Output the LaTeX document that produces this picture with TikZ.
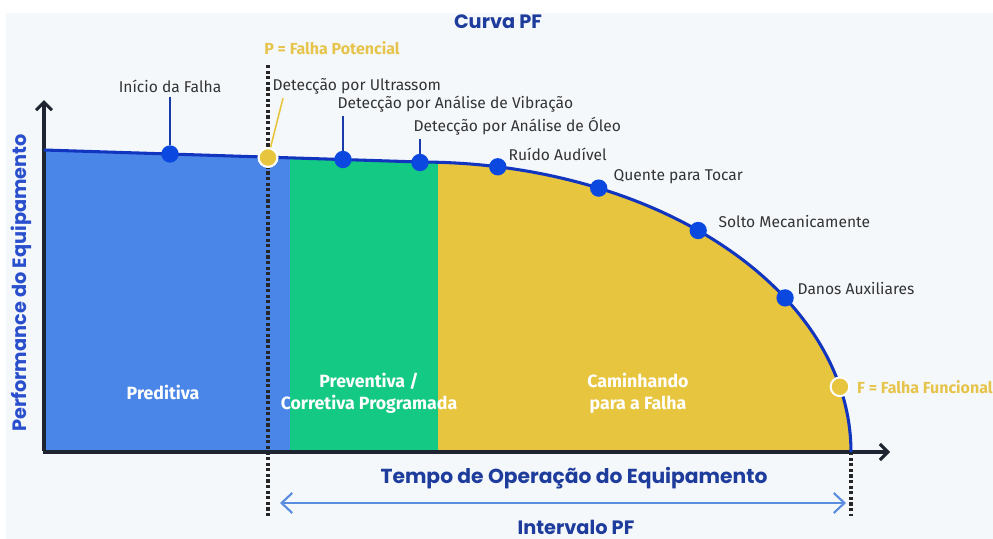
\documentclass[tikz,border=0pt]{standalone}
\usepackage{fontspec}
\setmainfont{Fira Sans}
\newfontfamily\pop{Poppins}
\usetikzlibrary{arrows.meta,calc}
\definecolor{bgc}{HTML}{F5F8FB}
\definecolor{regblue}{HTML}{4A86E8}
\definecolor{reggreen}{HTML}{14C983}
\definecolor{regyellow}{HTML}{E8C53E}
\definecolor{curveblue}{HTML}{1235C0}
\definecolor{dotblue}{HTML}{0A48E0}
\definecolor{titleblue}{HTML}{1E3C9C}
\definecolor{ylabelblue}{HTML}{2A4FCC}
\definecolor{ptext}{HTML}{E6C44C}
\definecolor{lblgray}{HTML}{333333}
\definecolor{axisc}{HTML}{1E2530}
\definecolor{arrowblue}{HTML}{5A8CE0}
\definecolor{connblue}{HTML}{1A3AA8}
\tikzset{
  lbl/.style={font=\fontsize{11.7}{14}\selectfont, text=lblgray, inner sep=1pt},
  region/.style={font=\bfseries\fontsize{13.3}{16.5}\selectfont, text=white, align=center},
  dotn/.style={circle, fill=dotblue, minimum size=13pt, inner sep=0},
  ydot/.style={circle, fill=regyellow, draw=white, line width=1.5pt, minimum size=14pt, inner sep=0},
  conn/.style={draw=connblue, line width=1.2pt},
  yconn/.style={draw=regyellow, line width=1.2pt},
  curveline/.style={draw=curveblue, line width=2.3pt},
  axisline/.style={draw=axisc, line width=2.3pt, -{Straight Barb[length=6pt,width=12pt,line width=2.3pt]}},
  guide/.style={draw=black!85, line width=2.6pt, dash pattern=on 2.4pt off 1.8pt},
  yellowtxt/.style={font=\bfseries\fontsize{12}{14}\selectfont, text=ptext, inner sep=0},
  poptitle/.style={font=\pop\bfseries\fontsize{#1}{16}\selectfont, text=titleblue}
}
\begin{document}
\begin{tikzpicture}[x=0.75pt,y=-0.75pt]
\useasboundingbox (0,0) rectangle (993,539);
\fill[white] (0,0) rectangle (993,539);
\fill[bgc] (6,13) rectangle (993,539);
\coordinate (start) at (44,150);
\coordinate (top) at (420,162);
\coordinate (origin) at (44,452);
% regions
\begin{scope}
\clip (origin) -- (start) -- (top) -- plot[domain=-90:0, samples=80] ({420+431*cos(\x)},{452+290*sin(\x)}) -- cycle;
\fill[regblue] (40,100) rectangle (290,460);
\fill[reggreen] (290,100) rectangle (438,460);
\fill[regyellow] (438,100) rectangle (870,460);
\end{scope}
% guides
\coordinate (g1t) at (268,65);
\coordinate (g1b) at (268,516);
\coordinate (g2t) at (851,452);
\coordinate (g2b) at (851,516);
\draw[guide] (g1t) -- (g1b);
\draw[guide] (g2t) -- (g2b);
% axes
\coordinate (ytip) at (44,100);
\coordinate (xtip) at (890,452);
\draw[axisline] ([yshift=0.9pt]origin) -- (ytip);
\draw[axisline] ([xshift=-0.9pt]origin) -- (xtip);
% curve
\draw[curveline] (start) -- (top) -- plot[domain=-90:0, samples=80] ({420+431*cos(\x)},{452+290*sin(\x)});
% labels
\node[lbl] (l1) at (170,86) {Início da Falha};
\node[lbl, anchor=west] (l2) at (271,86) {Detecção por Ultrassom};
\node[lbl, anchor=west] (l3) at (336,104) {Detecção por Análise de Vibração};
\node[lbl, anchor=west] (l4) at (412,126) {Detecção por Análise de Óleo};
\node[lbl, anchor=west] (l5) at (507,154) {Ruído Audível};
\node[lbl, anchor=west] (l6) at (612,177) {Quente para Tocar};
\node[lbl, anchor=west] (l7) at (717,222) {Solto Mecanicamente};
\node[lbl, anchor=west] (l8) at (796,289) {Danos Auxiliares};
% dots
\node[dotn] (d1) at (170,154) {};
\node[ydot] (dp) at (268,157.5) {};
\node[dotn] (d3) at (343,159.5) {};
\node[dotn] (d4) at (420,162.5) {};
\node[dotn] (d5) at ({420+431*cos(79.6)},{452-290*sin(79.6)}) {};
\node[dotn] (d6) at ({420+431*cos(65.5)},{452-290*sin(65.5)}) {};
\node[dotn] (d7) at ({420+431*cos(49.8)},{452-290*sin(49.8)}) {};
\node[dotn] (d8) at ({420+431*cos(32.1)},{452-290*sin(32.1)}) {};
\node[ydot] (df) at ({420+431*cos(13.0)},{452-290*sin(13.0)}) {};
% connectors
\draw[conn] ([yshift=-2pt]d1 |- l1.south) -- (d1);
\draw[yconn] ($(dp |- l2.south)+(15,-2pt)$) -- (dp);
\draw[conn] ([yshift=-2pt]d3 |- l3.south) -- (d3);
\draw[conn] ([yshift=-2pt]d4 |- l4.south) -- (d4);
\node[ydot] at (dp) {};
% yellow labels
\node[yellowtxt, anchor=west] (pl) at (264,48) {P = Falha Potencial};
\node[yellowtxt, anchor=west] (fl) at ([xshift=5pt]df.east) {F = Falha Funcional};
% regions text
\node[region] (r1) at (163,392) {Preditiva};
\node[region] (r2) at (369,393) {Preventiva /\\Corretiva Programada};
\node[region] (r3) at (638,393) {Caminhando\\para a Falha};
% titles
\node[poptitle=14.5] (title) at (498,22) {Curva PF};
\node[font=\pop\bfseries\fontsize{14.5}{16}\selectfont, text=ylabelblue, rotate=90] (ylab) at (21,283) {Performance do Equipamento};
\node[poptitle=15.2] (xlab) at (574,478) {Tempo de Operação do Equipamento};
\coordinate (ia) at (280,503);
\coordinate (ib) at (846,503);
\draw[draw=arrowblue, line width=1.6pt, {Straight Barb[length=8pt,width=15pt,line width=1.6pt]}-{Straight Barb[length=8pt,width=15pt,line width=1.6pt]}] (ia) -- (ib);
\node[poptitle=14.5] (ilab) at (576,527) {Intervalo PF};
\end{tikzpicture}
\end{document}
